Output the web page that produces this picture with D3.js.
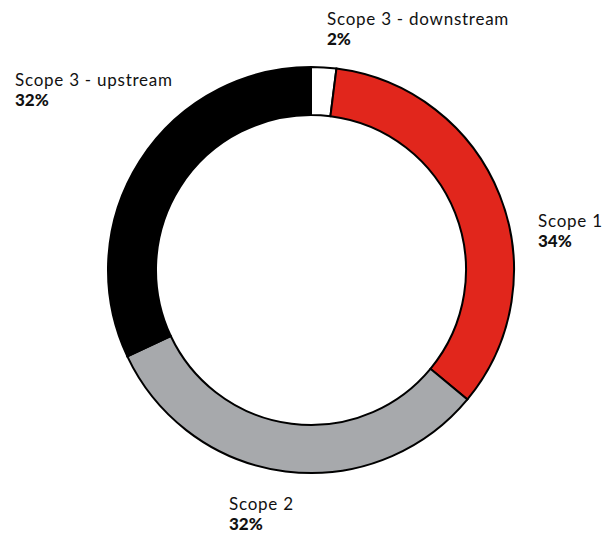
<!DOCTYPE html>
<html>
<head>
<meta charset="utf-8">
<script src="https://cdn.jsdelivr.net/npm/d3@7"></script>
<style>
  html, body { margin: 0; padding: 0; background: #fff; }
  svg { display: block; }
  text { font-family: "Lato", "Open Sans", sans-serif; fill: #111; }
</style>
</head>
<body>
<svg id="chart" width="610" height="534"></svg>
<script>
// Emissions share by scope (percent)
const categories = ["Scope 3 - downstream", "Scope 1", "Scope 2", "Scope 3 - upstream"];
const values = [2, 34, 32, 32];
const valueLabels = ["2%", "34%", "32%", "32%"];
const colors = ["#ffffff", "#e1261c", "#a7a9ac", "#000000"];

const width = 610, height = 534;
const cx = 311, cy = 270;
const outerR = 203, innerR = 155;

const svg = d3.select("#chart");
const g = svg.append("g").attr("transform", `translate(${cx},${cy})`);

const pie = d3.pie().value(d => d.value).sort(null);
const arc = d3.arc().innerRadius(innerR).outerRadius(outerR);

const data = categories.map((c, i) => ({ name: c, value: values[i], label: valueLabels[i], color: colors[i] }));

g.selectAll("path.slice")
  .data(pie(data))
  .join("path")
  .attr("class", "slice")
  .attr("d", arc)
  .attr("fill", d => d.data.color)
  .attr("stroke", "#000")
  .attr("stroke-width", 2)
  .attr("stroke-linejoin", "miter");

// Label anchors, placed beside each segment
const labelPos = {
  "Scope 3 - downstream": [327, 25],
  "Scope 1": [538, 227],
  "Scope 2": [229, 510],
  "Scope 3 - upstream": [15, 86]
};

const labels = svg.selectAll("g.label")
  .data(data)
  .join("g")
  .attr("class", "label")
  .attr("transform", d => `translate(${labelPos[d.name][0]},${labelPos[d.name][1]})`);

labels.append("text")
  .attr("font-size", 17)
  .attr("letter-spacing", 0.75)
  .text(d => d.name);

labels.append("text")
  .attr("y", 20)
  .attr("font-size", 17)
  .attr("font-weight", 900)
  .text(d => d.label);
</script>
</body>
</html>
